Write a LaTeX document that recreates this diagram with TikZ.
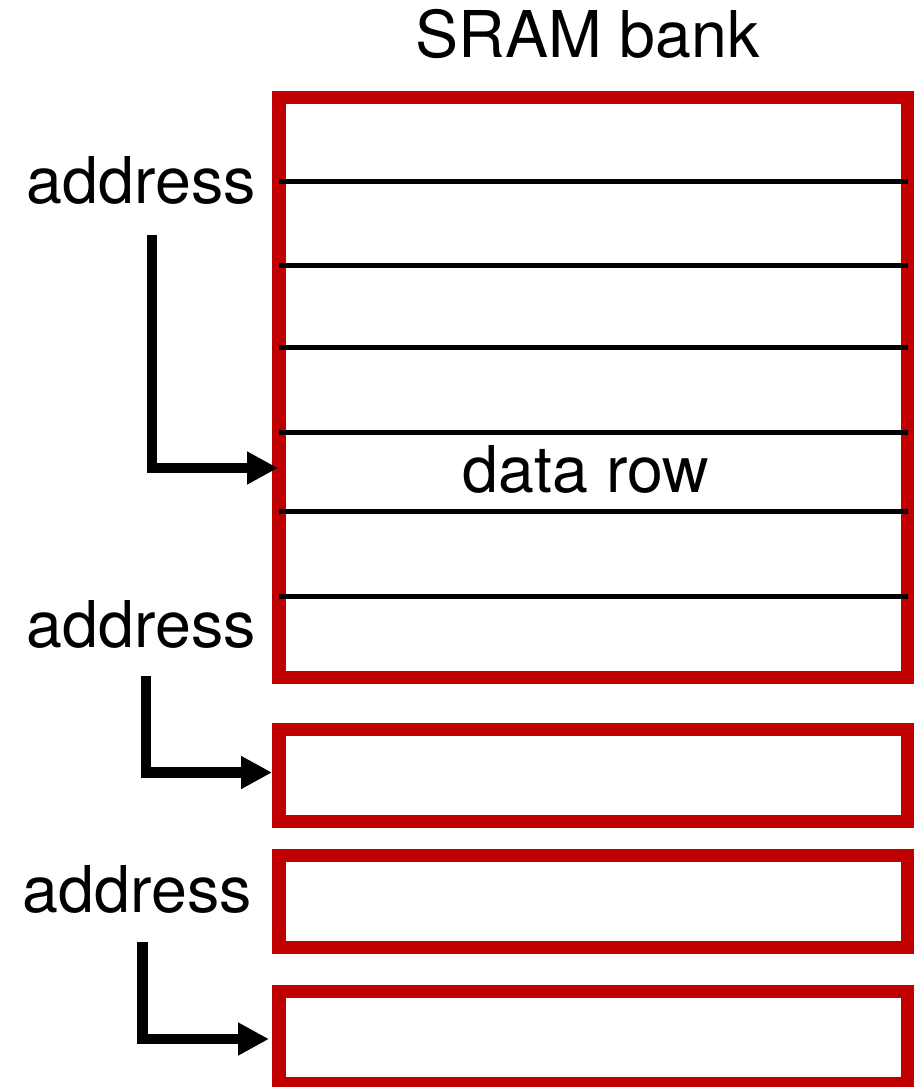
\documentclass[tikz,border=0pt]{standalone}
\usepackage{fontspec}
\setmainfont{TeX Gyre Heros}
\usetikzlibrary{arrows.meta}
\definecolor{bankred}{RGB}{192,0,0}
\begin{document}
\begin{tikzpicture}[x=1pt,y=-1pt,
  lbl/.style={inner sep=0pt, font=\fontsize{64.5}{76}\selectfont},
  bankbox/.style={draw=bankred, line width=13.5pt, inner sep=0pt, outer sep=0pt,
                  anchor=north west, minimum width=628.5pt},
  rowline/.style={line width=5pt},
  feed/.style={line width=10.5pt, -{Triangle[length=31pt,width=31pt]}}]
\useasboundingbox (0,0) rectangle (917,1087);

% memory banks
\node[bankbox, minimum height=580pt] (bank) at (279,97.5) {};
\node[bankbox, minimum height=92pt] (bank2) at (279,729.5) {};
\node[bankbox, minimum height=92pt] (bank3) at (279,855.5) {};
\node[bankbox, minimum height=92pt] (bank4) at (279,991.5) {};

% row separators of the first bank
\foreach \y in {181,265,347,432,511,596}
  \draw[rowline] (279,\y) -- (907.5,\y);

% labels
\node[lbl, anchor=base] (title) at (587.5,57) {SRAM bank};
\node[lbl, anchor=base] (row) at (586,492) {data row};
\node[lbl, anchor=base west] (addr1) at (26.5,203) {address};
\node[lbl, anchor=base west] (addr2) at (26.5,647) {address};
\node[lbl, anchor=base west] (addr3) at (22.5,912) {address};

% address lines
\coordinate (s1) at (152,235);   \coordinate (e1) at (278,468);
\coordinate (s2) at (146,676);   \coordinate (e2) at (272,772.5);
\coordinate (s3) at (142.5,942); \coordinate (e3) at (269,1039);
\draw[feed] (s1) |- (e1);
\draw[feed] (s2) |- (e2);
\draw[feed] (s3) |- (e3);
\end{tikzpicture}
\end{document}
